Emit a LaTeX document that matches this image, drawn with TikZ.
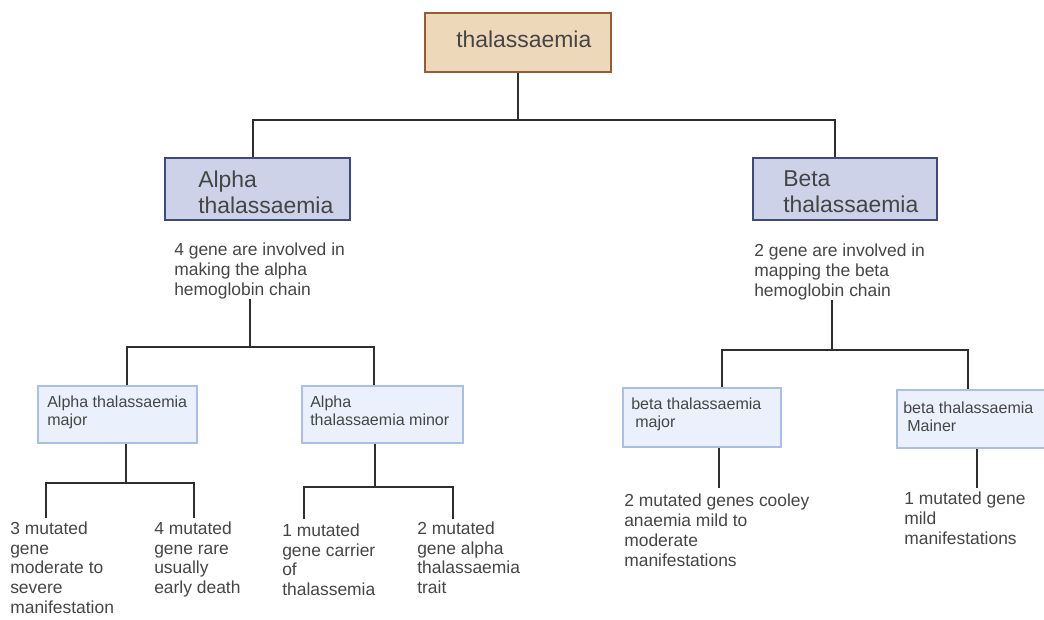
\documentclass[tikz,border=0pt]{standalone}
\usepackage{fontspec}
\setmainfont{Liberation Sans}

\definecolor{tanfill}{HTML}{EDD8BA}
\definecolor{tanborder}{HTML}{9A5B32}
\definecolor{bluefill}{HTML}{CDD2E8}
\definecolor{blueborder}{HTML}{3D4A7B}
\definecolor{lightfill}{HTML}{EAF1FC}
\definecolor{lightborder}{HTML}{A9BFE8}
\definecolor{linegray}{HTML}{2E2E2E}
\definecolor{textgray}{HTML}{454545}

\begin{document}
\begin{tikzpicture}[x=0.025cm,y=-0.025cm,
  link/.style={draw=linegray,line width=1.4pt},
  topbox/.style={draw=tanborder,fill=tanfill,line width=1.6pt},
  mainbox/.style={draw=blueborder,fill=bluefill,line width=1.4pt},
  subbox/.style={draw=lightborder,fill=lightfill,line width=1.1pt},
  headtxt/.style={anchor=base west,align=left,inner sep=0pt,text=textgray,font=\fontsize{16.3}{17.8}\selectfont},
  infotxt/.style={anchor=base west,align=left,inner sep=0pt,text=textgray,font=\fontsize{12.4}{14.2}\selectfont},
  subtxt/.style={anchor=base west,align=left,inner sep=0pt,text=textgray,font=\fontsize{11.4}{12.8}\selectfont}]
\useasboundingbox (0,0) rectangle (1044,619);

% boxes
\node[topbox,minimum width=4.65cm,minimum height=1.475cm] (top) at (518,42.5) {};
\node[mainbox,minimum width=4.625cm,minimum height=1.55cm] (alpha) at (257.5,189) {};
\node[mainbox,minimum width=4.6cm,minimum height=1.55cm] (beta) at (845,189) {};
\node[subbox,minimum width=3.975cm,minimum height=1.425cm] (amaj) at (117.5,414.5) {};
\node[subbox,minimum width=4.025cm,minimum height=1.425cm] (amin) at (382.5,414.5) {};
\node[subbox,minimum width=3.95cm,minimum height=1.475cm] (bmaj) at (702,417.5) {};
\node[subbox,minimum width=3.825cm,minimum height=1.45cm] (bmin) at (973.5,419) {};

% labels sit on the baseline of their last line
\node[headtxt] (top-txt) at (456,47) {thalassaemia};
\node[headtxt] (alpha-txt) at (198,213) {Alpha\\thalassaemia};
\node[headtxt] (beta-txt) at (783,212) {Beta\\thalassaemia};

\node[subtxt] (amaj-txt) at (47,425) {Alpha thalassaemia\\major};
\node[subtxt] (amin-txt) at (310,425) {Alpha\\thalassaemia minor};
\node[subtxt] (bmaj-txt) at (631,427) {beta thalassaemia\\\hspace{0.25em}major};
\node[subtxt] (bmin-txt) at (903,431) {beta thalassaemia\\\hspace{0.25em}Mainer};

% texts
\node[infotxt] (adesc) at (174,295) {4 gene are involved in\\making the alpha\\hemoglobin chain};
\node[infotxt] (bdesc) at (754,296) {2 gene are involved in\\mapping the beta\\hemoglobin chain};

\node[infotxt,font=\fontsize{12.4}{13.9}\selectfont] (t1) at (10,613) {3 mutated\\gene\\moderate to\\severe\\manifestation};
\node[infotxt,font=\fontsize{12.4}{13.9}\selectfont] (t2) at (154,593.5) {4 mutated\\gene rare\\usually\\early death};
\node[infotxt,font=\fontsize{12.4}{13.9}\selectfont] (t3) at (282,595.5) {1 mutated\\gene carrier\\of\\thalassemia};
\node[infotxt,font=\fontsize{12.4}{13.9}\selectfont] (t4) at (417,593.5) {2 mutated\\gene alpha\\thalassaemia\\trait};
\node[infotxt] (t5) at (624,566) {2 mutated genes cooley\\anaemia mild to\\moderate\\manifestations};
\node[infotxt] (t6) at (904,544) {1 mutated gene\\mild\\manifestations};

% connectors
\coordinate (ja) at (253,120);
\coordinate (jb) at (835,120);
\draw[link] (top.south) -- (top.south |- ja);
\draw[link] (alpha.north -| ja) -- (ja) -- (jb) -- (beta.north -| jb);

\coordinate (kc) at (250,347);
\coordinate (ka) at (127,347);
\coordinate (kb) at (374,347);
\draw[link] (kc |- adesc.south) -- (kc);
\draw[link] (amaj.north -| ka) -- (ka) -- (kb) -- (amin.north -| kb);

\coordinate (kd) at (832,350);
\coordinate (ke) at (722,350);
\coordinate (kf) at (968,350);
\draw[link] (kd |- bdesc.south) -- (kd);
\draw[link] (bmaj.north -| ke) -- (ke) -- (kf) -- (bmin.north -| kf);

\coordinate (ma) at (126,483);
\coordinate (mb) at (46,518);
\coordinate (mc) at (194,518);
\draw[link] (amaj.south -| ma) -- (ma);
\draw[link] (mb) -- (mb |- ma) -- (mc |- ma) -- (mc);

\coordinate (na) at (375,487);
\coordinate (nb) at (304,519);
\coordinate (nc) at (453,519);
\draw[link] (amin.south -| na) -- (na);
\draw[link] (nb) -- (nb |- na) -- (nc |- na) -- (nc);

\coordinate (pa) at (719,488);
\coordinate (pb) at (977,488);
\draw[link] (bmaj.south -| pa) -- (pa);
\draw[link] (bmin.south -| pb) -- (pb);
\end{tikzpicture}
\end{document}
